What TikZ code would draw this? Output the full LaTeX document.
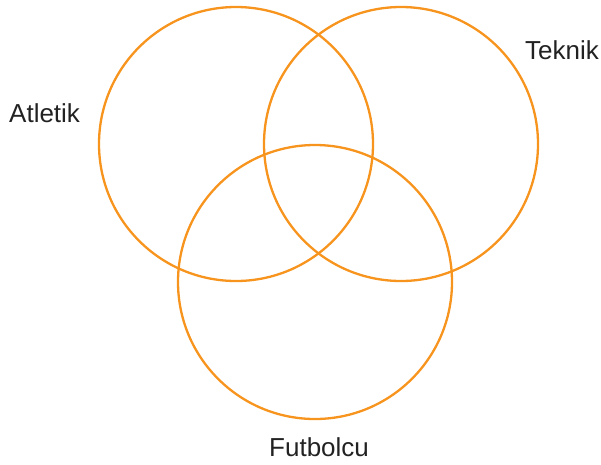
\documentclass[tikz,border=0pt]{standalone}
\usepackage{fontspec}
\setmainfont{Liberation Sans}
\usetikzlibrary{positioning}
\definecolor{vennorange}{RGB}{247,148,30}
\definecolor{labelgray}{RGB}{34,34,34}
\tikzset{
    setcircle/.style={circle, draw=vennorange, line width=2.3pt, minimum size=274pt, inner sep=0pt},
    setlabel/.style={text=labelgray, anchor=base west, inner sep=0pt, font=\fontsize{26}{30}\selectfont},
}

\begin{document}
\begin{tikzpicture}[x=1pt, y=-1pt]

    \useasboundingbox (0, 0) rectangle (601, 464);

    % Sets
    \node[setcircle] (atletik) at (236, 144) {};
    \node[setcircle] (teknik) at (401, 144) {};
    \node[setcircle] (futbolcu) at (315, 282) {};

    % Labels
    \node[setlabel] (atletik_lbl) at (9, 122) {Atletik};
    \node[setlabel] (teknik_lbl) at (525, 59) {Teknik};
    \node[setlabel] (futbolcu_lbl) at (269, 456) {Futbolcu};

\end{tikzpicture}
\end{document}
